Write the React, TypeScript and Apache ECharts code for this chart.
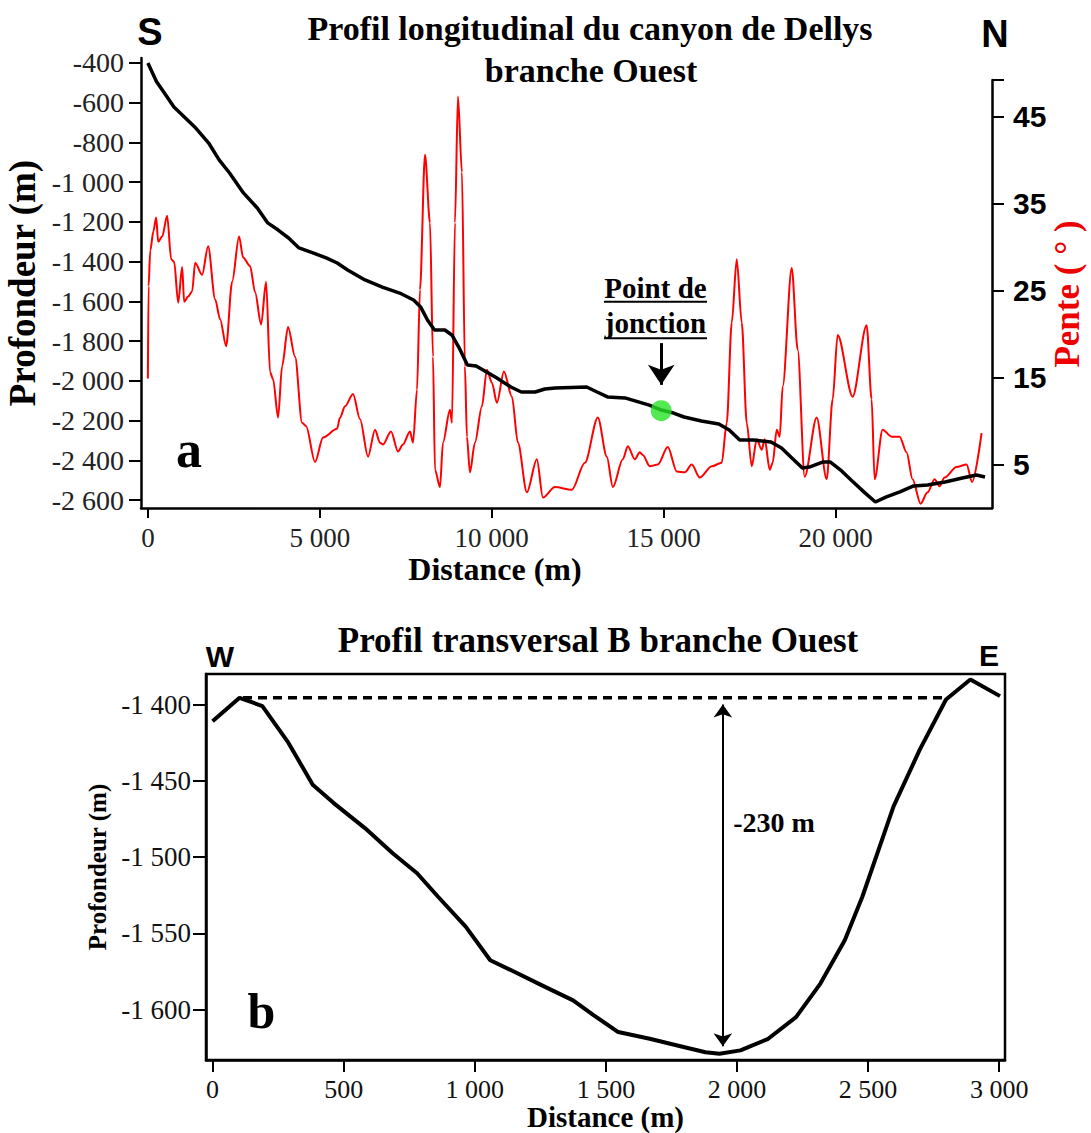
import React, { useEffect, useRef } from 'react';
import * as echarts from 'echarts';

// ---- Panel a : longitudinal profile ----
const profileDistance = [0, 253, 456, 758, 1363, 1768, 2072, 2375, 2779, 3183, 3486, 3790, 4093, 4395, 4799, 5203, 5507, 5809, 6315, 6818, 7323, 7727, 7931, 8132, 8335, 8637, 8840, 9041, 9294, 9547, 9849, 10151, 10555, 10860, 11264, 11546, 11849, 12761, 13064, 13368, 13875, 14583, 14935, 15289, 15594, 16099, 16605, 16908, 17213, 17617, 18122, 18428, 18730, 19035, 19236, 19642, 19843, 20148, 20451, 20855, 21159, 21462, 21869, 22273, 22677, 23183, 23688, 24095, 24347];
const profileDepth = [-400, -494, -545, -622, -722, -803, -888, -954, -1054, -1130, -1205, -1241, -1281, -1331, -1356, -1382, -1407, -1442, -1492, -1528, -1558, -1593, -1628, -1694, -1744, -1744, -1769, -1830, -1920, -1925, -1955, -1986, -2031, -2056, -2056, -2041, -2036, -2031, -2056, -2081, -2086, -2122, -2147, -2162, -2182, -2202, -2217, -2247, -2298, -2298, -2308, -2338, -2388, -2439, -2434, -2408, -2408, -2449, -2499, -2564, -2610, -2585, -2559, -2529, -2524, -2509, -2489, -2474, -2484];

const slopeDistance = [0, 20, 70, 160, 241, 299, 416, 561, 677, 764, 881, 997, 1055, 1171, 1287, 1375, 1578, 1752, 1956, 2101, 2276, 2450, 2653, 2770, 2973, 3118, 3293, 3438, 3554, 3641, 3787, 3903, 4077, 4281, 4484, 4601, 4862, 5094, 5501, 5589, 5734, 5967, 6170, 6403, 6606, 6751, 6839, 7071, 7275, 7420, 7624, 7711, 7827, 7914, 8059, 8205, 8292, 8350, 8495, 8582, 8786, 8844, 8931, 9018, 9134, 9221, 9279, 9366, 9512, 9715, 9861, 10006, 10151, 10355, 10587, 10762, 11023, 11314, 11488, 11837, 12331, 12709, 13087, 13348, 13523, 13813, 13958, 14162, 14307, 14394, 14598, 14830, 15121, 15382, 15615, 15818, 16051, 16400, 16690, 16836, 16981, 17126, 17272, 17417, 17562, 17707, 17853, 17940, 18085, 18172, 18289, 18376, 18463, 18725, 18899, 19102, 19451, 19742, 19916, 20061, 20497, 20904, 21049, 21136, 21369, 21630, 21863, 22066, 22240, 22473, 22676, 22880, 23025, 23170, 23519, 23810, 23972, 24247];
const slopeValue = [14.9, 25.5, 29.6, 31.8, 33.4, 30.6, 31.2, 33.6, 28.6, 28.3, 23.6, 27.7, 23.7, 24.3, 24.9, 28.2, 26.8, 30.1, 24.0, 21.7, 18.6, 26.0, 31.2, 28.8, 27.8, 24.8, 21.1, 26.0, 15.6, 14.8, 10.4, 16.3, 20.8, 17.4, 9.8, 9.4, 5.3, 8.1, 9.1, 10.4, 11.7, 13.1, 10.2, 5.9, 9.0, 7.5, 7.3, 8.8, 6.5, 7.3, 8.8, 7.5, 13.6, 25.1, 40.6, 32.8, 17.4, 4.4, 2.4, 7.5, 11.3, 9.8, 32.8, 47.3, 38.6, 16.3, 8.2, 4.1, 7.5, 11.7, 15.9, 14.4, 12.1, 15.7, 12.8, 7.5, 1.8, 5.6, 1.2, 2.4, 2.1, 5.2, 10.4, 5.9, 2.4, 5.6, 7.1, 5.6, 6.4, 6.1, 4.8, 5.0, 7.0, 4.2, 4.1, 5.0, 3.5, 4.8, 5.2, 9.8, 21.3, 28.6, 21.3, 9.8, 4.8, 7.9, 6.7, 7.9, 4.4, 5.2, 9.0, 8.2, 14.0, 27.6, 18.2, 3.6, 10.4, 3.3, 12.5, 19.9, 12.8, 21.0, 12.5, 3.3, 9.0, 8.2, 8.2, 6.4, 3.3, 0.5, 1.8, 3.3, 2.5, 3.5, 4.7, 5.0, 3.0, 8.6];

const junctionPoint = [14930, -2150];
const junctionArrowFrom = -1810;
const junctionArrowTo = -2020;

const distanceTicks = [0, 5000, 10000, 15000, 20000];
const depthTicks = [-400, -600, -800, -1000, -1200, -1400, -1600, -1800, -2000, -2200, -2400, -2600];
const slopeTicks = [5, 15, 25, 35, 45];

// ---- Panel b : transverse profile ----
const transDistance = [0, 103, 190, 289, 382, 462, 581, 687, 780, 860, 966, 1059, 1139, 1268, 1375, 1454, 1547, 1667, 1800, 1880, 1933, 2013, 2119, 2225, 2318, 2411, 2478, 2597, 2697, 2797, 2890, 3003];
const transDepth = [-1411, -1395.6, -1401, -1425, -1452.6, -1464.6, -1481, -1497.5, -1510.6, -1526, -1545.7, -1567.6, -1574.2, -1585.1, -1593.9, -1603.7, -1614.7, -1619.1, -1624.6, -1627.9, -1628.9, -1626.7, -1619.1, -1604.9, -1582.9, -1554.5, -1526, -1466.8, -1429.6, -1396.7, -1383.6, -1394.5];
const rimDistance = [116, 2797];
const rimDepth = -1395.6;
const reliefX = 1946;
const reliefFrom = -1400;
const reliefTo = -1624;

const transDistanceTicks = [0, 500, 1000, 1500, 2000, 2500, 3000];
const transDepthTicks = [-1400, -1450, -1500, -1550, -1600];

const serif = '"Liberation Serif", "Times New Roman", serif';
const sans = '"Liberation Sans", Arial, sans-serif';

function fmt(n: number): string {
  const neg = n < 0;
  const s = String(Math.abs(Math.round(n))).replace(/\B(?=(\d{3})+(?!\d))/g, ' ');
  return (neg ? '-' : '') + s;
}

function zip(a: number[], b: number[]) {
  return a.map((x, i) => [x, b[i]]);
}

function txt(text: string, x: number, y: number, size: number, family: string, fill = '#000', weight = 'bold') {
  return {
    type: 'text',
    silent: true,
    style: { text, x, y, fill, fontSize: size, fontFamily: family, fontWeight: weight, align: 'center', verticalAlign: 'middle' },
  };
}

export default function App() {
  const ref = useRef<HTMLDivElement>(null);
  useEffect(() => {
    document.body.style.margin = '0';
    const chart = echarts.init(ref.current!, null, { renderer: 'svg' });
    const axisLine = { show: true, onZero: false, lineStyle: { color: '#000', width: 2.5 } };
    const option: any = {
      animation: false,
      backgroundColor: '#fff',
      grid: [
        { left: 141, top: 58, width: 851, height: 450, outerBoundsMode: 'none', containLabel: false },
        { left: 141, top: 80, width: 851, height: 428, outerBoundsMode: 'none', containLabel: false },
        { left: 206, top: 674, width: 799, height: 386, outerBoundsMode: 'none', containLabel: false, show: true, borderColor: '#000', borderWidth: 2.5, backgroundColor: 'transparent' },
      ],
      xAxis: [
        {
          type: 'value', gridIndex: 0, min: -200, max: 24550,
          axisLine,
          axisTick: { show: true, customValues: distanceTicks, length: 10, lineStyle: { color: '#000', width: 2 } },
          axisLabel: { customValues: distanceTicks, formatter: fmt, fontFamily: serif, fontSize: 27, color: '#222', margin: 16 },
          splitLine: { show: false },
        },
        { type: 'value', gridIndex: 1, min: -200, max: 24550, show: false, splitLine: { show: false } },
        {
          type: 'value', gridIndex: 2, min: -25, max: 3022,
          axisLine,
          axisTick: { show: true, customValues: transDistanceTicks, length: 12, lineStyle: { color: '#000', width: 2 } },
          axisLabel: { customValues: transDistanceTicks, formatter: fmt, fontFamily: serif, fontSize: 26, color: '#111', margin: 16 },
          splitLine: { show: false },
          name: 'Distance (m)', nameLocation: 'middle', nameGap: 42,
          nameTextStyle: { fontFamily: serif, fontWeight: 'bold', fontSize: 29, color: '#000' },
        },
      ],
      yAxis: [
        {
          type: 'value', gridIndex: 0, min: -2640, max: -375, position: 'left',
          axisLine,
          axisTick: { show: true, customValues: depthTicks, length: 12, lineStyle: { color: '#000', width: 2 } },
          axisLabel: { customValues: depthTicks, formatter: fmt, fontFamily: serif, fontSize: 28, color: '#222', margin: 17 },
          splitLine: { show: false },
          name: 'Profondeur (m)', nameLocation: 'middle', nameGap: 95, nameRotate: 90,
          nameTextStyle: { fontFamily: serif, fontWeight: 'bold', fontSize: 37, color: '#000' },
        },
        {
          type: 'value', gridIndex: 1, min: 0, max: 49.2, position: 'right',
          axisLine,
          axisTick: { show: true, customValues: [...slopeTicks, 49.2], length: 12, lineStyle: { color: '#000', width: 2 } },
          axisLabel: { customValues: slopeTicks, fontFamily: sans, fontWeight: 'bold', fontSize: 30, color: '#000', margin: 21 },
          splitLine: { show: false },
          name: 'Pente ( ° )', nameLocation: 'middle', nameGap: 58, nameRotate: 90, nameMoveOverlap: false,
          nameTextStyle: { fontFamily: serif, fontWeight: 'bold', fontSize: 35, color: '#ee0000' },
        },
        {
          type: 'value', gridIndex: 2, min: -1633, max: -1380,
          axisLine,
          axisTick: { show: true, customValues: transDepthTicks, length: 13, lineStyle: { color: '#000', width: 2 } },
          axisLabel: { customValues: transDepthTicks, formatter: fmt, fontFamily: serif, fontSize: 27, color: '#111', margin: 15 },
          splitLine: { show: false },
          name: 'Profondeur (m)', nameLocation: 'middle', nameGap: 95, nameRotate: 90,
          nameTextStyle: { fontFamily: serif, fontWeight: 'bold', fontSize: 25, color: '#000' },
        },
      ],
      series: [
        {
          type: 'line', xAxisIndex: 1, yAxisIndex: 1, z: 2,
          data: zip(slopeDistance, slopeValue), symbol: 'none', smooth: 0.3, smoothMonotone: 'x',
          lineStyle: { color: '#ff0000', width: 2 },
        },
        {
          type: 'line', xAxisIndex: 0, yAxisIndex: 0, z: 3,
          data: zip(profileDistance, profileDepth), symbol: 'none',
          lineStyle: { color: '#000', width: 3.5 },
          markLine: {
            silent: true, symbol: ['none', 'arrow'], symbolSize: [20, 20],
            label: { show: false }, lineStyle: { color: '#000', width: 3, type: 'solid' },
            data: [[{ coord: [junctionPoint[0], junctionArrowFrom] }, { coord: [junctionPoint[0], junctionArrowTo] }]],
          },
        },
        {
          type: 'scatter', xAxisIndex: 0, yAxisIndex: 0, z: 4,
          data: [junctionPoint], symbolSize: 21, itemStyle: { color: '#27e327' },
        },
        {
          type: 'line', xAxisIndex: 2, yAxisIndex: 2, z: 3,
          data: zip(transDistance, transDepth), symbol: 'none',
          lineStyle: { color: '#000', width: 4 },
          markLine: {
            silent: true, symbol: ['arrow', 'arrow'], symbolSize: [14, 13],
            label: { show: false }, lineStyle: { color: '#000', width: 2, type: 'solid' },
            data: [[{ coord: [reliefX, reliefFrom] }, { coord: [reliefX, reliefTo] }]],
          },
        },
        {
          type: 'line', xAxisIndex: 2, yAxisIndex: 2, z: 2,
          data: rimDistance.map((x) => [x, rimDepth]), symbol: 'none',
          lineStyle: { color: '#000', width: 3.5, type: [9, 6] },
        },
      ],
      graphic: [
        txt('Profil longitudinal du canyon de Dellys', 590, 28.4, 34, serif),
        txt('branche Ouest', 591, 70, 34, serif),
        txt('S', 150, 32, 38, sans),
        txt('N', 995, 33.5, 38, sans),
        txt('a', 189, 449, 52, serif),
        txt('Distance (m)', 495, 569, 32, serif),
        txt('Point de', 655.5, 288, 29, serif),
        txt('jonction', 655.5, 323, 29, serif),
        { type: 'line', silent: true, shape: { x1: 604, y1: 301.7, x2: 707, y2: 301.7 }, style: { stroke: '#000', lineWidth: 2 } },
        { type: 'line', silent: true, shape: { x1: 604, y1: 338.3, x2: 707, y2: 338.3 }, style: { stroke: '#000', lineWidth: 2 } },
        txt('Profil transversal B branche Ouest', 598, 640, 35, serif),
        txt('W', 220, 656.6, 30, sans),
        txt('E', 989, 655.6, 30, sans),
        txt('b', 261.5, 1011, 50, serif),
        txt('-230 m', 774, 822, 28, serif),
      ],
    };
    chart.setOption(option);
    return () => chart.dispose();
  }, []);
  return <div ref={ref} style={{ width: 1091, height: 1133, background: '#fff' }} />;
}
